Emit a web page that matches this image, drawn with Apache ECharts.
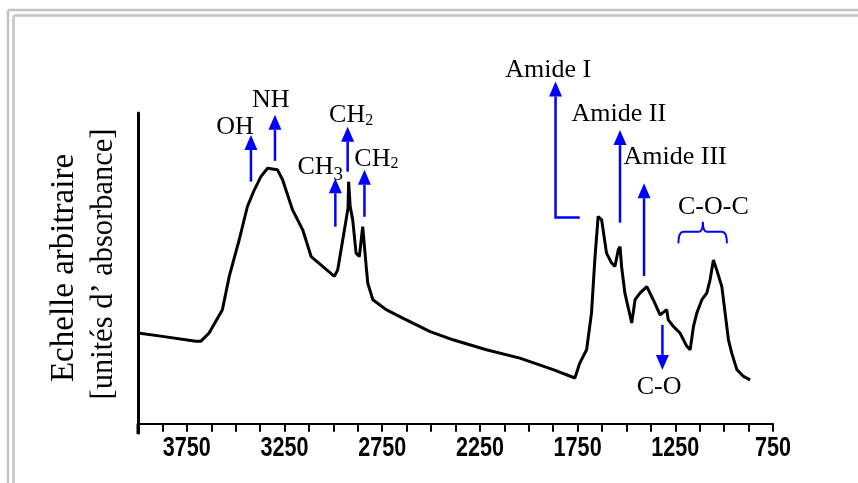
<!DOCTYPE html>
<html>
<head>
<meta charset="utf-8">
<script src="https://cdn.jsdelivr.net/npm/echarts@6/dist/echarts.min.js"></script>
<style>
html,body{margin:0;padding:0;background:#fff;}
#chart{width:858px;height:483px;}
</style>
</head>
<body>
<div id="chart"></div>
<script>
// Wavenumber (cm-1) and absorbance (arbitrary units)
const wavenumbers = [4000,3875,3704,3679,3636,3568,3533,3482,3440,3405,3371,3337,3286,3260,3209,3157,3114,3055,2995,2978,2952,2935,2925,2922,2914,2901,2884,2867,2850,2841,2832,2824,2798,2730,2645,2559,2508,2388,2217,2046,1875,1764,1739,1704,1679,1662,1645,1627,1602,1576,1559,1542,1533,1525,1508,1473,1456,1431,1396,1363,1328,1294,1286,1260,1226,1191,1174,1157,1140,1114,1089,1072,1055,1038,1012,995,978,961,935,901,867];
const absorbance = [29.2,28.1,26.5,26.5,29.2,36.7,47.4,59.2,69.9,75.2,79.5,82.2,81.7,78.5,68.8,62.4,53.8,50.6,47.4,49.5,59.2,65.6,69.4,77.9,69.9,65.6,54.9,53.8,63.4,64.0,50.6,45.2,39.9,36.7,34.0,31.3,29.7,27.0,23.8,21.1,17.4,14.7,19.5,23.8,35.6,52.7,66.7,65.6,54.9,51.7,50.6,55.9,57.0,50.6,42.0,32.4,39.9,42.0,44.1,39.9,35.0,36.7,33.4,31.3,29.2,24.9,23.8,31.3,35.6,39.9,42.0,46.3,52.7,49.5,44.1,35.6,27.0,22.7,17.4,15.2,14.1];
const tickLabels = ['3750','3250','2750','2250','1750','1250','750'];

// Annotation arrows: position (cm-1), start and tip (absorbance units)
const arrowX    = [3422, 3299, 2927, 2990, 2841, 1533, 1410, 1316];
const arrowFrom = [77.9, 84.6, 81.1, 63.4, 66.6, 64.7, 47.5, 31.8];
const arrowTo   = [92.9, 99.4, 95.6, 79.0, 81.7, 94.5, 77.4, 17.3];
// Bent arrow for Amide I
const amideIPath = [[1739, 66.4], [1863, 66.4], [1863, 110.1]];
// Labels
const labelText = ['OH', 'NH', 'CH2', 'CH3', 'CH2', 'Amide I', 'Amide II', 'Amide III', 'C-O', 'C-O-C'];
const labelX    = [3503, 3320, 2909, 3067, 2780, 1901, 1539, 1251, 1333, 1055];
const labelY    = [96.1, 104.7, 99.9, 83.3, 85.9, 114.4, 100.4, 86.5, 12.5, 70.4];
// C-O-C brace: start, mid, end (cm-1) and levels
const braceX = [1234, 1109, 986];
const braceY = [58.1, 61.8, 65.0];

const BLUE = '#0000ff';
const SERIF = '"Liberation Serif","Times New Roman",serif';

const chart = echarts.init(document.getElementById('chart'), null, {renderer: 'canvas'});

function arrowShapes(pts, color) {
  const n = pts.length;
  const tip = pts[n - 1], prev = pts[n - 2];
  const dx = tip[0] - prev[0], dy = tip[1] - prev[1];
  const len = Math.sqrt(dx * dx + dy * dy) || 1;
  const ux = dx / len, uy = dy / len;
  const hl = 15, hw = 6.5;
  const base = [tip[0] - ux * hl, tip[1] - uy * hl];
  const shaft = pts.slice(0, n - 1).concat([base]);
  return [
    {type: 'polyline', shape: {points: shaft}, style: {stroke: color, lineWidth: 2.5, fill: null}},
    {type: 'polygon', shape: {points: [tip, [base[0] - uy * hw, base[1] + ux * hw], [base[0] + uy * hw, base[1] - ux * hw]]}, style: {fill: color}}
  ];
}

function richLabel(t) {
  if (t === 'CH2') return '{m|CH}{s|2}';
  if (t === 'CH3') return '{m|CH}{t|3}';
  return '{m|' + t + '}';
}

const option = {
  animation: false,
  backgroundColor: '#ffffff',
  grid: {left: 138, right: 85, top: 113, bottom: 50, containLabel: false},
  xAxis: {
    type: 'value',
    inverse: true,
    min: 750,
    max: 4000,
    interval: 125,
    splitLine: {show: false},
    axisLine: {onZero: true, lineStyle: {color: '#000', width: 2}},
    axisTick: {show: true, length: 8, lineStyle: {color: '#000', width: 2}},
    axisLabel: {show: false}
  },
  yAxis: {
    type: 'value',
    min: -3,
    max: 100,
    axisLine: {show: true, lineStyle: {color: '#000', width: 3}},
    axisTick: {show: false},
    axisLabel: {show: false},
    splitLine: {show: false}
  },
  graphic: [
    {type: 'line', shape: {x1: 8, y1: 10, x2: 858, y2: 10}, style: {stroke: '#c4c4c4', lineWidth: 2.5}, silent: true},
    {type: 'line', shape: {x1: 8, y1: 10, x2: 8, y2: 483}, style: {stroke: '#c4c4c4', lineWidth: 2.5}, silent: true},
    {type: 'line', shape: {x1: 13.5, y1: 15.5, x2: 858, y2: 15.5}, style: {stroke: '#c4c4c4', lineWidth: 2.5}, silent: true},
    {type: 'line', shape: {x1: 13.5, y1: 15.5, x2: 13.5, y2: 483}, style: {stroke: '#c4c4c4', lineWidth: 2.5}, silent: true},
    {type: 'text', x: 64, y: 268, rotation: Math.PI / 2, style: {text: 'Echelle arbitraire', font: '33px ' + SERIF, fill: '#000', textAlign: 'center', textVerticalAlign: 'middle'}},
    {type: 'text', x: 104, y: 264, rotation: Math.PI / 2, style: {text: '[unités d\u2019 absorbance]', font: '30.5px ' + SERIF, fill: '#000', textAlign: 'center', textVerticalAlign: 'middle'}}
  ],
  series: [
    {
      name: 'spectre',
      type: 'line',
      data: wavenumbers.map((w, i) => [w, absorbance[i]]),
      showSymbol: false,
      smooth: false,
      lineStyle: {color: '#000', width: 3},
      z: 5
    },
    {
      name: 'graduations',
      type: 'custom',
      clip: false,
      data: tickLabels.map(t => [Number(t), 0]),
      renderItem: function (params, api) {
        const p = api.coord([api.value(0), api.value(1)]);
        return {
          type: 'text',
          x: p[0], y: p[1] + 25,
          scaleX: 0.8,
          style: {
            text: String(api.value(0)),
            font: 'bold 27px "Liberation Sans", Arial, sans-serif',
            fill: '#000',
            textAlign: 'center',
            textVerticalAlign: 'middle'
          }
        };
      },
      z: 6
    },
    {
      name: 'fleches',
      type: 'custom',
      clip: false,
      data: arrowX.map((x, i) => [x, arrowFrom[i], arrowTo[i]]),
      renderItem: function (params, api) {
        const p1 = api.coord([api.value(0), api.value(1)]);
        const p2 = api.coord([api.value(0), api.value(2)]);
        return {type: 'group', children: arrowShapes([p1, p2], BLUE)};
      },
      z: 6
    },
    {
      name: 'amide1',
      type: 'custom',
      clip: false,
      data: [0],
      renderItem: function (params, api) {
        const pts = amideIPath.map(p => api.coord(p));
        return {type: 'group', children: arrowShapes(pts, BLUE)};
      },
      z: 6
    },
    {
      name: 'accolade',
      type: 'custom',
      clip: false,
      data: [0],
      renderItem: function (params, api) {
        const a = api.coord([braceX[0], braceY[0]]);
        const m = api.coord([braceX[1], braceY[1]]);
        const top = api.coord([braceX[1], braceY[2]]);
        const b = api.coord([braceX[2], braceY[0]]);
        const yl = m[1], yt = top[1], xm = m[0];
        const d = 'M' + a[0] + ' ' + a[1] +
          ' Q' + a[0] + ' ' + yl + ' ' + (a[0] + 5) + ' ' + yl +
          ' L' + (xm - 4) + ' ' + yl +
          ' Q' + xm + ' ' + yl + ' ' + xm + ' ' + yt +
          ' Q' + xm + ' ' + yl + ' ' + (xm + 4) + ' ' + yl +
          ' L' + (b[0] - 5) + ' ' + yl +
          ' Q' + b[0] + ' ' + yl + ' ' + b[0] + ' ' + b[1];
        return {type: 'path', shape: {pathData: d}, style: {stroke: BLUE, lineWidth: 2, fill: null}};
      },
      z: 6
    },
    {
      name: 'etiquettes',
      type: 'custom',
      clip: false,
      data: labelX.map((x, i) => [x, labelY[i], i]),
      renderItem: function (params, api) {
        const p = api.coord([api.value(0), api.value(1)]);
        const t = labelText[api.value(2)];
        return {
          type: 'text',
          x: p[0], y: p[1],
          style: {
            text: richLabel(t),
            textAlign: 'center',
            textVerticalAlign: 'middle',
            rich: {
              m: {fontFamily: SERIF, fontSize: 26, color: '#000', lineHeight: 30, verticalAlign: 'bottom'},
              s: {fontFamily: SERIF, fontSize: 16, color: '#000', lineHeight: 20, verticalAlign: 'bottom'},
              t: {fontFamily: SERIF, fontSize: 19, color: '#000', lineHeight: 20, verticalAlign: 'bottom', padding: [0, 0, -5, 0]}
            }
          }
        };
      },
      z: 7
    },
    {
      name: 'axe',
      type: 'custom',
      clip: false,
      data: [0],
      renderItem: function (params, api) {
        const p = api.coord([4000, 0]);
        const q = api.coord([4000, -3]);
        return {type: 'line', shape: {x1: p[0], y1: p[1], x2: q[0], y2: q[1] + 1}, style: {stroke: '#000', lineWidth: 3}};
      },
      z: 4
    }
  ]
};
chart.setOption(option);
</script>
</body>
</html>
